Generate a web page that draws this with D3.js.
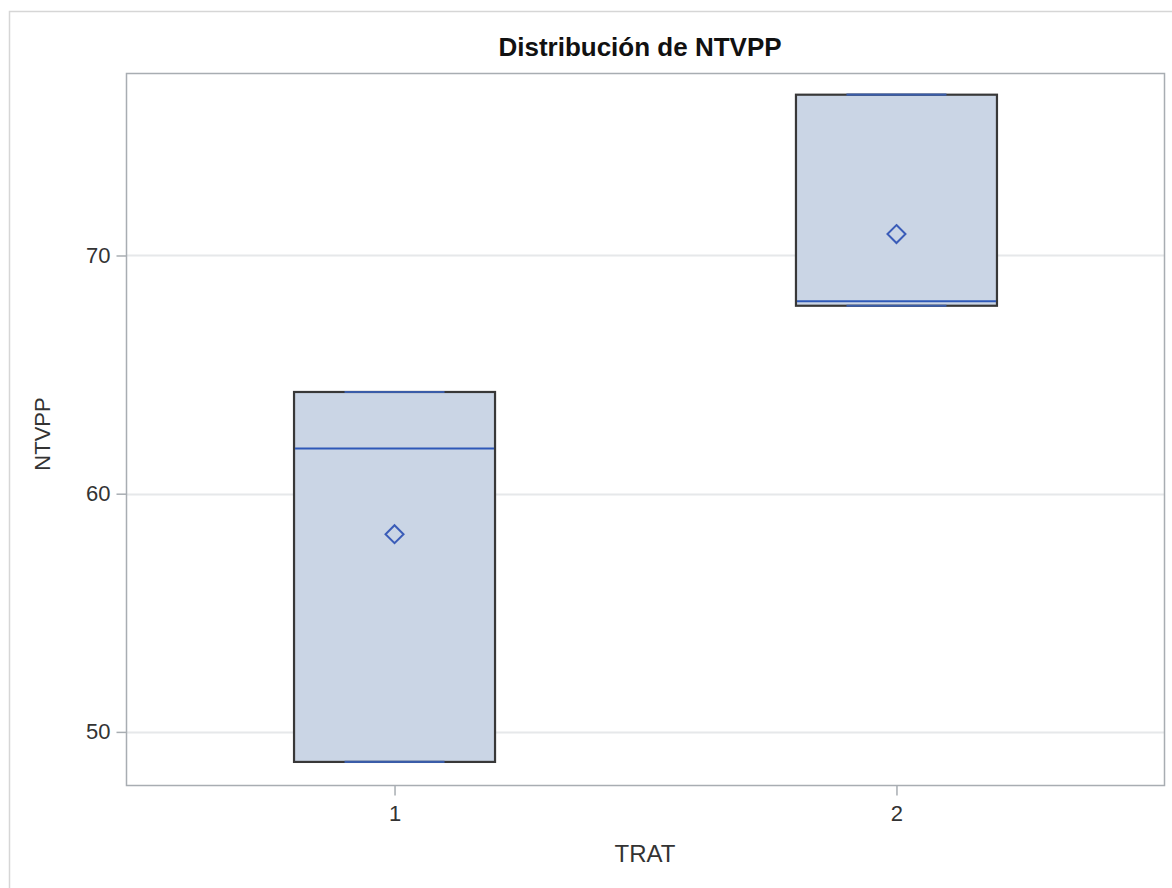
<!DOCTYPE html>
<html>
<head>
<meta charset="utf-8">
<script src="https://cdn.jsdelivr.net/npm/d3@7"></script>
<style>
  html, body { margin: 0; padding: 0; background: #fff; }
  svg { display: block; font-family: "Liberation Sans", Arial, sans-serif; }
</style>
</head>
<body>
<svg id="chart" width="1172" height="888"></svg>
<script>
// Treatment groups and per-group box statistics for NTVPP
const categories = ["1", "2"];
const minVals    = [48.74, 67.89];
const q1Vals     = [48.74, 67.89];
const medianVals = [61.90, 68.08];
const q3Vals     = [64.27, 76.75];
const maxVals    = [64.27, 76.75];
const meanVals   = [58.30, 70.90];
const yTicks     = [50, 60, 70];

const title = "Distribución de NTVPP";
const xLabel = "TRAT";
const yLabel = "NTVPP";

const svg = d3.select("#chart");
const W = 1172, H = 888;

// outer graph border
svg.append("rect")
  .attr("x", 9.5).attr("y", 11.5)
  .attr("width", W + 20).attr("height", H + 20)
  .attr("fill", "#fff").attr("stroke", "#d6d6d6").attr("stroke-width", 1.5);

const frame = { left: 126.5, top: 73.5, right: 1164.5, bottom: 785.5 };

const y = d3.scaleLinear()
  .domain([47.75, 77.64])
  .range([frame.bottom, frame.top]);

const x = d3.scalePoint()
  .domain(categories)
  .range([frame.left, frame.right])
  .padding(0.534);

// grid lines
svg.append("g").selectAll("line").data(yTicks).join("line")
  .attr("x1", frame.left).attr("x2", frame.right)
  .attr("y1", d => Math.round(y(d)) + 0.5).attr("y2", d => Math.round(y(d)) + 0.5)
  .attr("stroke", "#e6e8ea").attr("stroke-width", 2);

// boxes
const boxW = 201, capW = 100;
const data = categories.map((c, i) => ({
  c, min: minVals[i], q1: q1Vals[i], med: medianVals[i], q3: q3Vals[i], max: maxVals[i], mean: meanVals[i]
}));

const g = svg.append("g");
const boxes = g.selectAll("g.box").data(data).join("g").attr("class", "box");

// whiskers
boxes.append("line")
  .attr("x1", d => x(d.c)).attr("x2", d => x(d.c))
  .attr("y1", d => y(d.max)).attr("y2", d => y(d.q3))
  .attr("stroke", "#3a3a3a").attr("stroke-width", 1.5);
boxes.append("line")
  .attr("x1", d => x(d.c)).attr("x2", d => x(d.c))
  .attr("y1", d => y(d.q1)).attr("y2", d => y(d.min))
  .attr("stroke", "#3a3a3a").attr("stroke-width", 1.5);

boxes.append("rect")
  .attr("x", d => x(d.c) - boxW / 2)
  .attr("y", d => y(d.q3))
  .attr("width", boxW)
  .attr("height", d => y(d.q1) - y(d.q3))
  .attr("fill", "#cad5e5")
  .attr("stroke", "#383838").attr("stroke-width", 2.2);

// whisker caps
boxes.append("line")
  .attr("x1", d => x(d.c) - capW / 2).attr("x2", d => x(d.c) + capW / 2)
  .attr("y1", d => y(d.max)).attr("y2", d => y(d.max))
  .attr("stroke", "#3a5ca8").attr("stroke-width", 2.2);
boxes.append("line")
  .attr("x1", d => x(d.c) - capW / 2).attr("x2", d => x(d.c) + capW / 2)
  .attr("y1", d => y(d.min)).attr("y2", d => y(d.min))
  .attr("stroke", "#3a5ca8").attr("stroke-width", 2.2);

// median
boxes.append("line")
  .attr("x1", d => x(d.c) - boxW / 2 + 1).attr("x2", d => x(d.c) + boxW / 2 - 1)
  .attr("y1", d => y(d.med)).attr("y2", d => y(d.med))
  .attr("stroke", "#2e58b8").attr("stroke-width", 2);

// mean diamond
boxes.append("path")
  .attr("transform", d => `translate(${x(d.c)},${y(d.mean)})`)
  .attr("d", "M0,-9L9,0L0,9L-9,0Z")
  .attr("fill", "none")
  .attr("stroke", "#3a5cb8").attr("stroke-width", 2);

// frame
svg.append("rect")
  .attr("x", frame.left).attr("y", frame.top)
  .attr("width", frame.right - frame.left).attr("height", frame.bottom - frame.top)
  .attr("fill", "none").attr("stroke", "#a8adb2").attr("stroke-width", 1.5);

// axes
const yAxis = svg.append("g")
  .attr("transform", `translate(${frame.left},0)`)
  .call(d3.axisLeft(y).tickValues(yTicks).tickSize(10).tickPadding(6).tickFormat(d3.format("d")));
const xAxis = svg.append("g")
  .attr("transform", `translate(0,${frame.bottom})`)
  .call(d3.axisBottom(x).tickSize(10).tickPadding(10));

[yAxis, xAxis].forEach(a => {
  a.select(".domain").remove();
  a.selectAll(".tick line").attr("stroke", "#a8adb2").attr("stroke-width", 1.5);
  a.selectAll(".tick text")
    .attr("fill", "#333").attr("font-size", 22)
    .attr("font-family", "'Liberation Sans', Arial, sans-serif");
});

// title
svg.append("text")
  .attr("x", 640).attr("y", 56)
  .attr("text-anchor", "middle")
  .attr("font-size", 26).attr("font-weight", "bold").attr("fill", "#111")
  .text(title);

// axis labels
svg.append("text")
  .attr("x", 645).attr("y", 862)
  .attr("text-anchor", "middle")
  .attr("font-size", 24).attr("fill", "#333")
  .text(xLabel);

svg.append("text")
  .attr("transform", `translate(50,${434}) rotate(-90)`)
  .attr("text-anchor", "middle")
  .attr("font-size", 22).attr("fill", "#333")
  .text(yLabel);
</script>
</body>
</html>
